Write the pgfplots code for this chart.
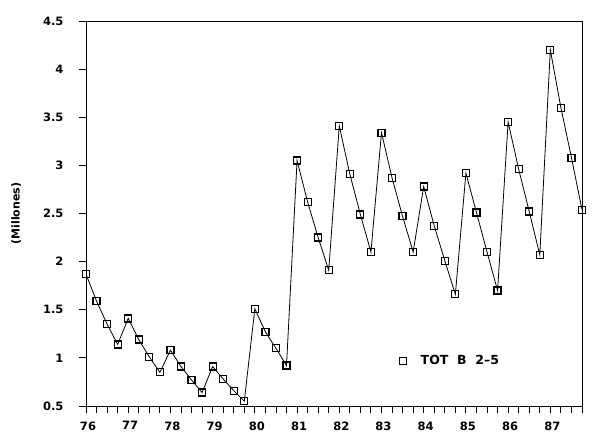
\documentclass[border=0pt]{standalone}
\usepackage{pgfplots}
\pgfplotsset{compat=1.18}
\usepackage{fontspec}
\setmainfont{DejaVu Sans}
\pgfplotstableread{
x y
0 1.87
1 1.59
2 1.35
3 1.14
4 1.41
5 1.19
6 1.01
7 0.85
8 1.08
9 0.91
10 0.77
11 0.64
12 0.91
13 0.78
14 0.66
15 0.55
16 1.51
17 1.27
18 1.10
19 0.92
20 3.05
21 2.62
22 2.25
23 1.91
24 3.41
25 2.91
26 2.49
27 2.10
28 3.34
29 2.87
30 2.47
31 2.10
32 2.78
33 2.37
34 2.01
35 1.66
36 2.92
37 2.51
38 2.10
39 1.70
40 3.45
41 2.96
42 2.52
43 2.07
44 4.20
45 3.60
46 3.08
47 2.54
}\datatable
\begin{document}
\begin{tikzpicture}[x=1pt,y=1pt]
\path[use as bounding box] (0,0) rectangle (600,445);
\begin{axis}[
 scale only axis, width=496pt, height=385pt,
 at={(86pt,39pt)}, anchor=south west,
 xmin=0, xmax=47, ymin=0.5, ymax=4.5,
 xtick={0,4,...,44},
 xticklabels={76,77,78,79,80,81,82,83,84,85,86,87},
 minor xtick={0,...,47},
 ytick={0.5,1,1.5,2,2.5,3,3.5,4,4.5},
 yticklabels={0.5,1,1.5,2,2.5,3,3.5,4,4.5},
 xtick pos=bottom, ytick pos=left,
 tick align=outside,
 major tick length=7pt, minor tick length=7pt,
 every tick/.style={black, line width=0.9pt},
 axis line style={line width=0.9pt},
 ticklabel style={font=\bfseries\fontsize{11.5}{14}\selectfont},
 yticklabel style={xshift=-12pt},
 xticklabel style={yshift=-5pt, xshift=2pt},
 ylabel={(Millones)},
 ylabel style={at={(axis description cs:-0.141,0.5)}, anchor=center, font=\bfseries\fontsize{11}{13}\selectfont},
 legend style={at={(0.625,0.117)}, anchor=west, draw=none, fill=none, font=\bfseries\fontsize{12.5}{15}\selectfont},
 legend image code/.code={\draw plot coordinates {(0.2cm,0cm)}; \path (0.75cm,0cm);},
]
\addplot[black, line width=0.8pt, mark=square, mark size=3.5pt, mark options={line width=1.2pt, fill=white}] table[x=x,y=y] {\datatable};
\addlegendentry{TOT\ \ B\ \ 2--5}
\end{axis}
\end{tikzpicture}
\end{document}
